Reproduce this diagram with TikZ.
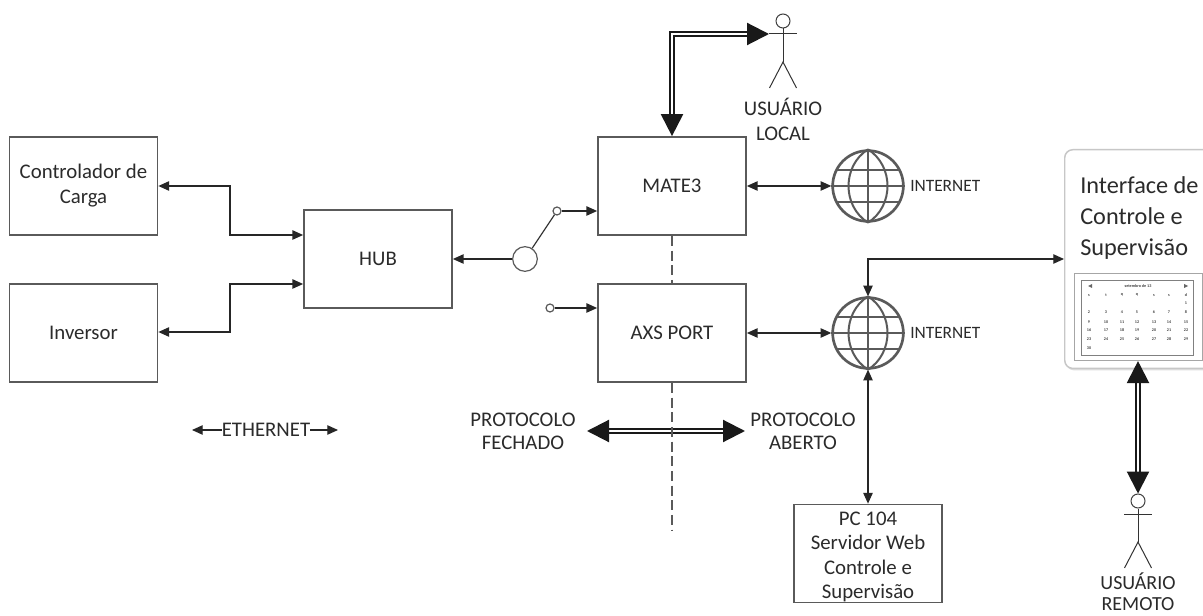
\documentclass[tikz,border=0pt]{standalone}
\usepackage{fontspec}
\setmainfont{Carlito}
\usetikzlibrary{arrows.meta,shadows,calc}
\definecolor{boxline}{HTML}{5A5A5A}
\definecolor{inktext}{HTML}{2B2B2B}
\tikzset{
  x=0.75pt,y=-0.75pt,
  every node/.style={text=inktext,font=\fontsize{15.6}{18.75}\selectfont,inner sep=0pt},
  blockbox/.style={draw=boxline,line width=1.3pt,align=center,minimum width=111pt,minimum height=73.5pt},
  link/.style={draw=black!85,line width=.9pt,{Triangle[width=7pt,length=8pt]}-{Triangle[width=7pt,length=8pt]}},
  onelink/.style={draw=black!85,line width=.9pt,-{Triangle[width=7pt,length=8pt]}},
  fat/.style={draw=black!90,line width=1.6pt,double=white,double distance=1.5pt},
  bigtips/.style={{Triangle[width=16.5pt,length=16.5pt]}-{Triangle[width=16.5pt,length=16.5pt]}},
  globering/.style={circle,draw=boxline,line width=2pt,minimum size=53pt},
  globeline/.style={draw=boxline,line width=1.5pt},
  stick/.style={draw=black!80,line width=.75pt},
  contact/.style={circle,draw=boxline,line width=.9pt,fill=white},
  lbl/.style={align=center},
  netlbl/.style={font=\fontsize{13}{15}\selectfont},
  cal/.style={font=\fontsize{3.1}{4}\selectfont\bfseries,text=black!75},
}
\newcommand{\globelines}[1]{%
  \draw[globeline] (#1.north) -- (#1.south);
  \draw[globeline] (#1.west) -- (#1.east);
  \draw[globeline] (#1.north) .. controls ($(#1)+(-26,-20)$) and ($(#1)+(-26,20)$) .. (#1.south);
  \draw[globeline] (#1.north) .. controls ($(#1)+(26,-20)$) and ($(#1)+(26,20)$) .. (#1.south);
  \draw[globeline] ($(#1)+(-31,-16)$) -- ($(#1)+(31,-16)$);
  \draw[globeline] ($(#1)+(-31,16)$) -- ($(#1)+(31,16)$);
}
\newcommand{\actor}[2]{%
  \node[circle,draw=black!75,line width=.75pt,minimum size=10.5pt] (#2head) at (#1) {};
  \coordinate (#2arm) at ($(#1)+(-14,13)$);
  \coordinate (#2armr) at ($(#1)+(14,13)$);
  \coordinate (#2hip) at ($(#1)+(0,41)$);
  \draw[stick] (#2head.south) -- (#2hip);
  \draw[stick] (#2arm) -- (#2armr);
  \draw[stick] ($(#2hip)+(-13.5,26)$) -- (#2hip) -- ($(#2hip)+(13.5,26)$);
}
\begin{document}
\begin{tikzpicture}
\useasboundingbox (0,0) rectangle (1203,616);
\fill[white] (0,0) rectangle (1203,616);

% blocks
\node[blockbox] (ctrl) at (83.5,186) {Controlador de\\Carga};
\node[blockbox] (inv) at (83.5,333) {Inversor};
\node[blockbox] (hub) at (378,259) {HUB};
\node[blockbox] (mate) at (672,186) {MATE3};
\node[blockbox] (axs) at (672,333) {AXS PORT};
\node[blockbox,font=\fontsize{15.6}{18.3}\selectfont] (pc) at (868,553.5) {\rule{0pt}{15pt}PC 104\\Servidor Web\\Controle e\\Supervisão};

% switch
\node[contact,minimum size=18.5pt] (sw) at (525,259) {};
\node[contact,minimum size=6pt] (c1) at (557,211) {};
\node[contact,minimum size=6pt] (c2) at (550,308) {};
\draw[stick,line width=.9pt] (sw) -- (c1);
\path[onelink] (sw.west) -- (hub.east |- sw.west);
\path[onelink] (c1.east) -- (mate.west |- c1.east);
\path[onelink] (c2.east) -- (axs.west |- c2.east);

% hub links
\coordinate (busa) at (230,186);
\coordinate (busb) at (230,235);
\coordinate (busc) at (230,284);
\coordinate (busd) at (230,332);
\path[link] (ctrl.east |- busa) -- (busa) -- (busb) -- (hub.west |- busb);
\path[link] (inv.east |- busd) -- (busd) -- (busc) -- (hub.west |- busc);

% globes
\node[globering] (g1) at (868,186) {};
\node[globering] (g2) at (868,333) {};
\globelines{g1}
\globelines{g2}
\node[netlbl,anchor=west] (n1) at (910,186) {INTERNET};
\node[netlbl,anchor=west] (n2) at (910,333) {INTERNET};
\path[link] (mate.east |- g1.west) -- (g1.west);
\path[link] (axs.east |- g2.west) -- (g2.west);

% interface panel
\node[draw=black!22,line width=1.1pt,rounded corners=6pt,fill=white,drop shadow={shadow xshift=1pt,shadow yshift=-1.5pt,opacity=.25},minimum width=120pt,minimum height=164pt,anchor=north west] (panel) at (1064,149) {};
\node[anchor=north west,align=left,font=\fontsize{18.2}{23.3}\selectfont] (ititle) at (1080,176) {Interface de\\Controle e\\Supervisão};
\node[draw=black!35,line width=.8pt,fill=white,minimum width=96pt,minimum height=65.25pt,anchor=north west] (calo) at (1074,273) {};
\node[draw=black!50,line width=.7pt,fill=white,minimum width=84pt,minimum height=56.25pt,anchor=north west] (cali) at (1081,280) {};
\foreach \lab/\cx/\cy in {s/1089/295,t/1106/295,q/1122/295,q/1137/295,s/1154/295,s/1169/295,d/1186/295,
 1/1186/303,
 2/1089/312,3/1106/312,4/1122/312,5/1137/312,6/1154/312,7/1169/312,8/1186/312,
 9/1089/322,10/1106/322,11/1122/322,12/1137/322,13/1154/322,14/1169/322,15/1186/322,
 16/1089/330,17/1106/330,18/1122/330,19/1137/330,20/1154/330,21/1169/330,22/1186/330,
 23/1089/339,24/1106/339,25/1122/339,26/1137/339,27/1154/339,28/1169/339,29/1186/339,
 30/1089/348}
  \node[cal] at (\cx,\cy) {\lab};
\node[cal] (calm) at (1138,286) {setembro de 13};
\fill[black!60] (1088,286) -- (1092,284) -- (1092,288) -- cycle;
\fill[black!60] (1184,284) -- (1188,286) -- (1184,288) -- cycle;

% wan link
\coordinate (wan) at (868,259);
\path[link] (g2.north) -- (wan) -- (panel.west |- wan);
\path[link] (g2.south) -- (pc.north -| g2.south);

% actors
\actor{783,21}{loc}
\actor{1138,501}{rem}
\node[lbl] (ulocal) at (783,119) {USUÁRIO\\LOCAL};
\node[lbl,font=\fontsize{15}{15.5}\selectfont] (uremoto) at (1138,592) {USUÁRIO\\REMOTO};

% fat arrows
\coordinate (corner) at (672,34);
\draw[fat,bigtips] (mate.north) -- (corner) -- (locarm);
\draw[fat,bigtips] (calo.south -| remhead.north) -- (remhead.north);

% protocol
\node[lbl,font=\fontsize{15.6}{17.3}\selectfont] (pf) at (523,431.5) {PROTOCOLO\\FECHADO};
\node[lbl,font=\fontsize{15.6}{17.3}\selectfont] (pa) at (803,431.5) {PROTOCOLO\\ABERTO};
\coordinate (pl) at (587,431);
\coordinate (pr) at (745,431);
\draw[fat,bigtips] (pl) -- (pr);

% dashed separator
\coordinate (dashend) at (672,530);
\draw[draw=boxline,line width=1pt,dash pattern=on 7.5pt off 3.5pt] (mate.south) -- (axs.north);
\draw[draw=boxline,line width=1pt,dash pattern=on 7.5pt off 3.5pt] (axs.south) -- (dashend);

% ethernet legend
\node[lbl] (eth) at (266,430) {ETHERNET};
\coordinate (ethl) at (192,430);
\coordinate (ethr) at (338,430);
\path[onelink] (eth.west) -- (ethl);
\path[onelink] (eth.east) -- (ethr);
\end{tikzpicture}
\end{document}
